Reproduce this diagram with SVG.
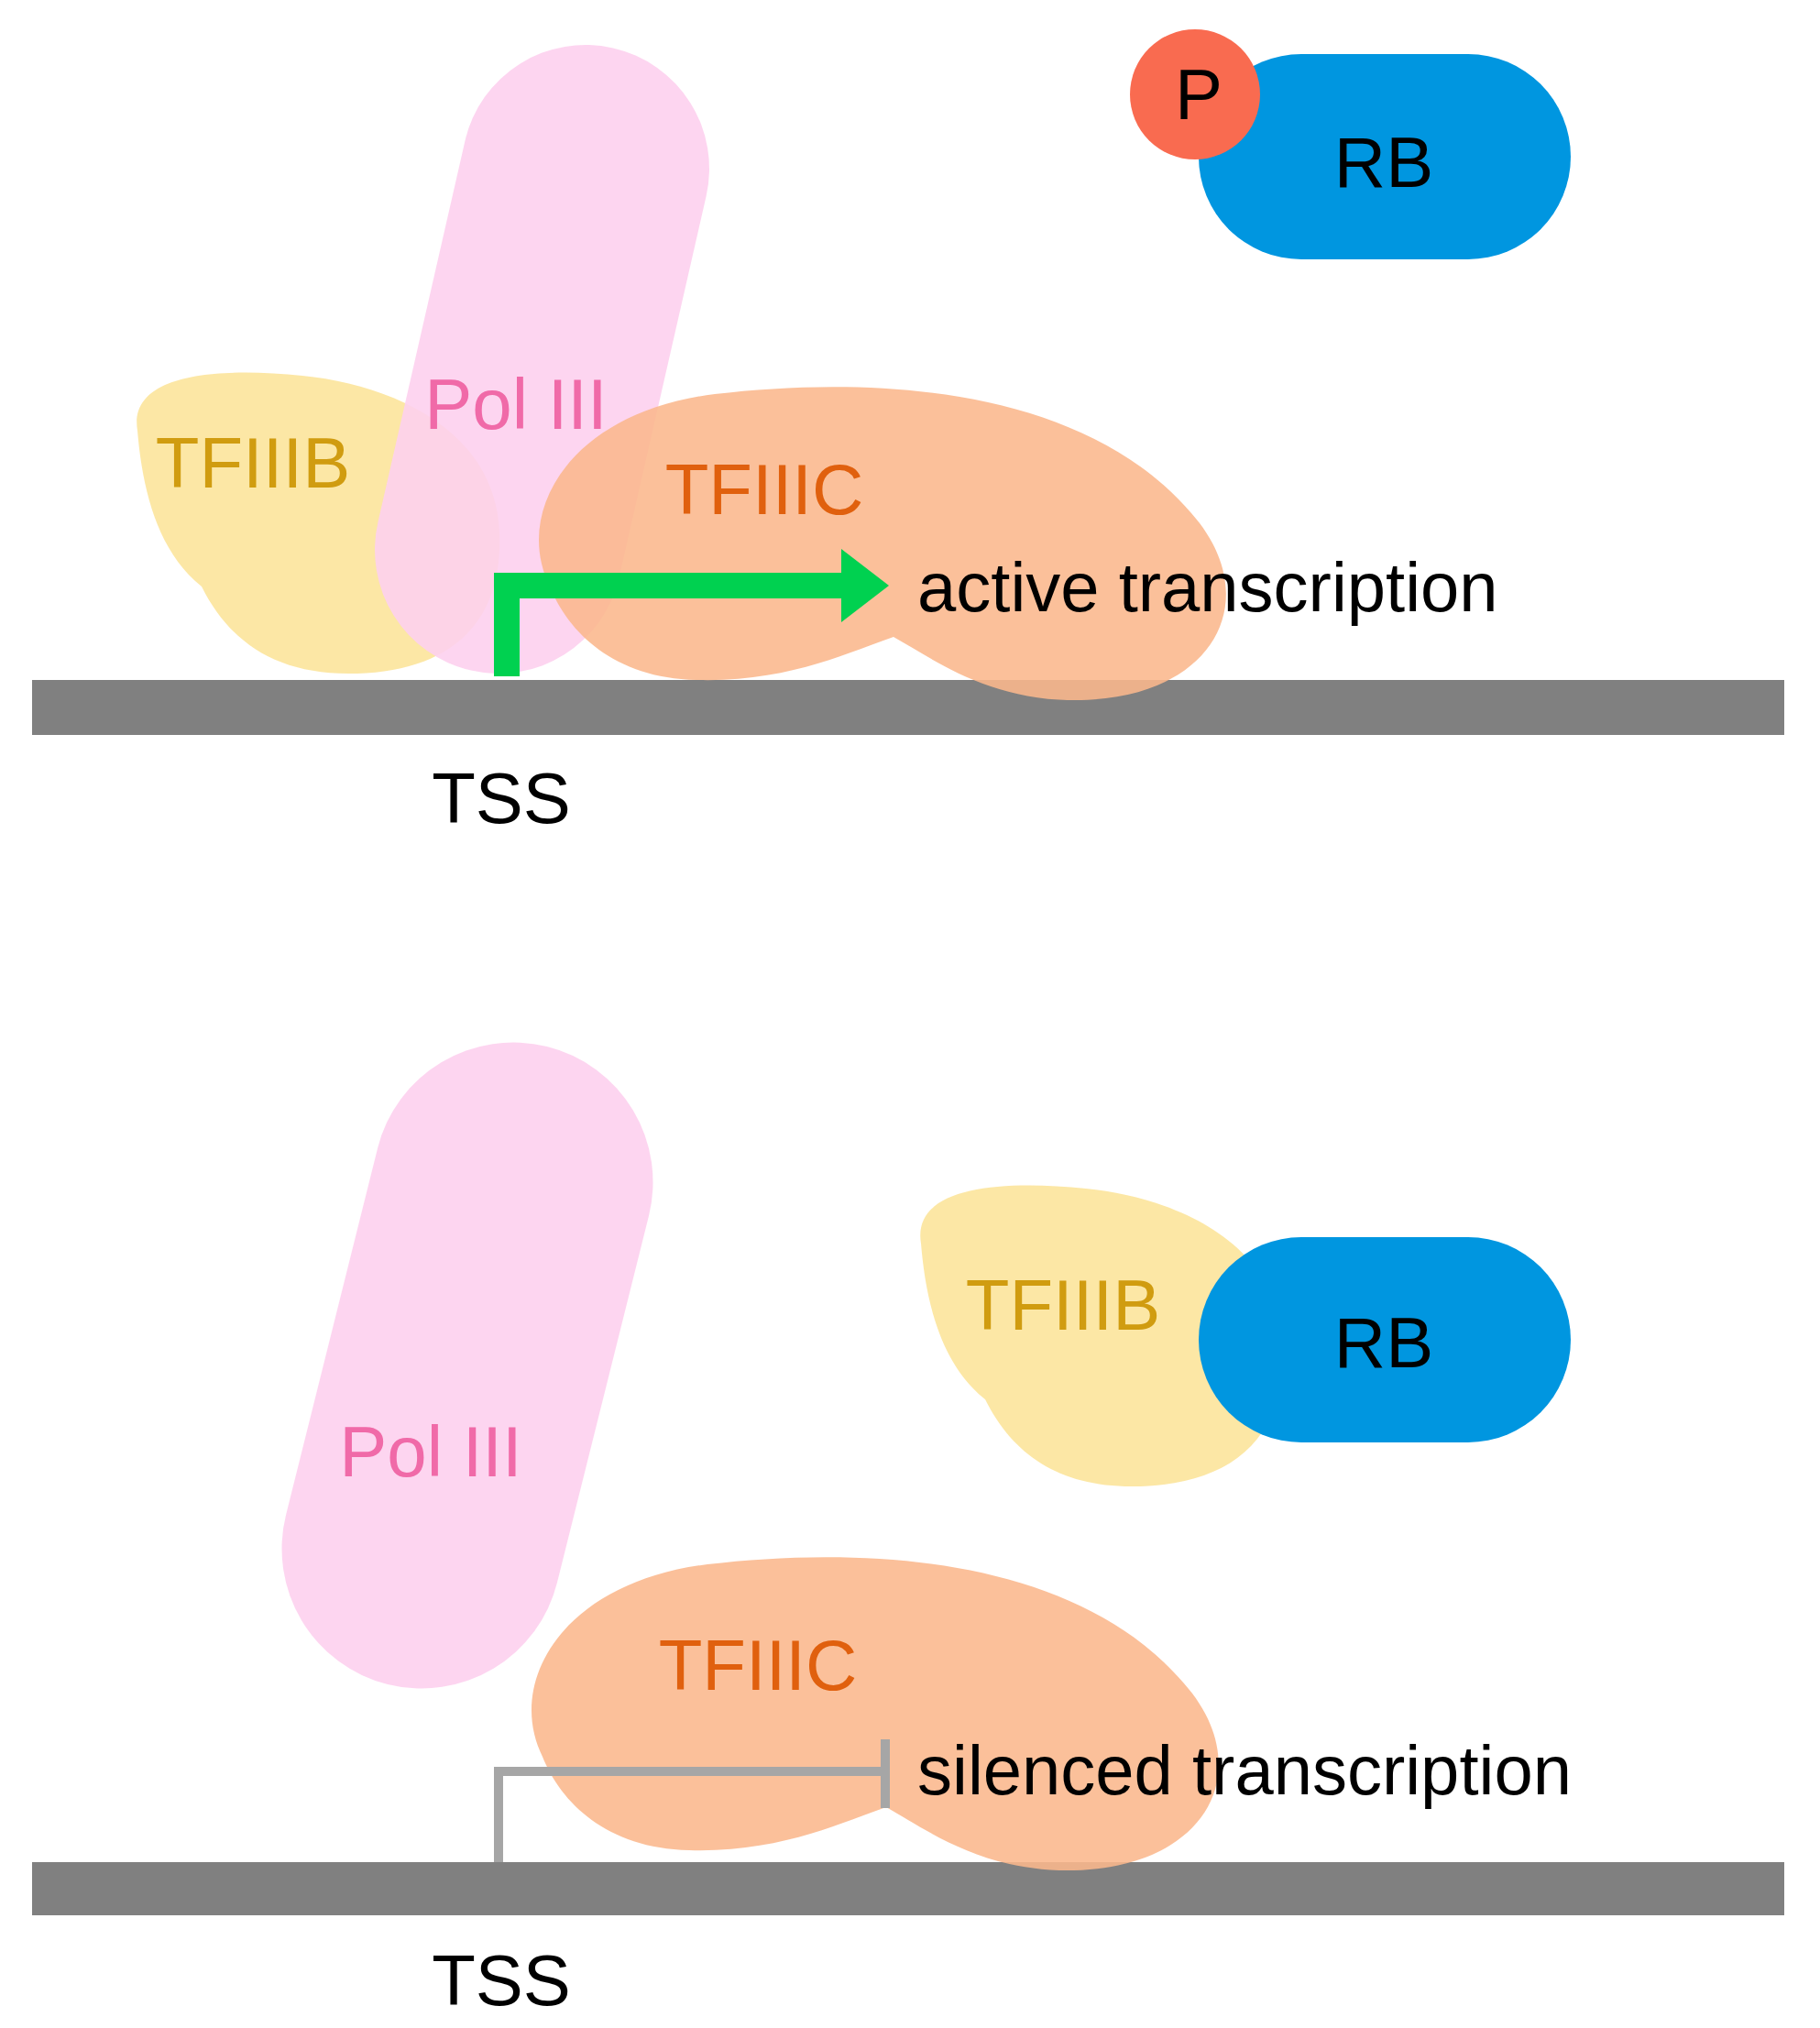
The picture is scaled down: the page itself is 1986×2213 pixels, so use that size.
<svg xmlns="http://www.w3.org/2000/svg" width="1986" height="2213" viewBox="0 0 1986 2213">
<style>
text{font-family:"Liberation Sans",Arial,sans-serif}
.lbl{font-size:78px;text-anchor:middle}
.b{fill:#fce6a0;opacity:0.95}
.p{stroke:#fdd0ee;stroke-linecap:round;fill:none;opacity:0.9}
.c{fill:#fbb78c;opacity:0.88}
.rb{fill:#0096e0}
.dna{fill:#808080}
</style>
<defs>
<path id="tfb" d="M150,470 C140,410 230,400 330,410 C430,420 540,470 545,580 C550,690 480,735 380,735 C300,735 250,700 220,640 C170,600 155,530 150,470 Z"/>
<path id="tfc" d="M600,640 C560,560 620,450 780,430 C950,410 1180,420 1300,560 C1380,650 1330,760 1180,764 C1080,766 1020,720 975,695 C930,710 860,745 760,742 C670,740 620,690 600,640 Z"/>
</defs>
<rect width="1986" height="2213" fill="#fff"/>
<g id="dna-top"><rect class="dna" x="35" y="742" width="1912" height="60"/><text x="547" y="898" class="lbl" fill="#000">TSS</text></g>
<g id="dna-bottom"><rect class="dna" x="35" y="2032" width="1912" height="58"/><text x="547" y="2188" class="lbl" fill="#000">TSS</text></g>
<g id="tfiiib-top"><use href="#tfb" class="b"/><text x="276" y="532" class="lbl" fill="#d09c10">TFIIIB</text></g>
<g id="pol3-top"><line class="p" x1="639" y1="184" x2="544" y2="600" stroke-width="270"/><text x="563" y="468" class="lbl" fill="#f06aa8">Pol III</text></g>
<g id="tfiiic-top"><use href="#tfc" class="c"/><text x="834" y="561" class="lbl" fill="#e0600e">TFIIIC</text></g>
<g id="rb-top"><rect class="rb" x="1308" y="59" width="406" height="224" rx="112"/><text x="1510" y="204" class="lbl" fill="#000">RB</text></g>
<g id="p-top"><circle cx="1304" cy="103" r="71" fill="#f96b50"/><text x="1308" y="130" class="lbl" fill="#000">P</text></g>
<g id="pol3-bottom"><line class="p" x1="560" y1="1290" x2="460" y2="1690" stroke-width="305"/><text x="470" y="1611" class="lbl" fill="#f06aa8">Pol III</text></g>
<g id="tfiiic-bottom"><use href="#tfc" class="c" transform="translate(-8,1277)"/><text x="827" y="1844" class="lbl" fill="#e0600e">TFIIIC</text></g>
<g id="tfiiib-bottom"><use href="#tfb" class="b" transform="translate(855,887)"/><text x="1160" y="1451" class="lbl" fill="#d09c10">TFIIIB</text></g>
<g id="rb-bottom"><rect class="rb" x="1308" y="1350" width="406" height="224" rx="112"/><text x="1510" y="1492" class="lbl" fill="#000">RB</text></g>
<g id="connectors">
<polyline points="553,738 553,639 925,639" fill="none" stroke="#00d150" stroke-width="28"/>
<polygon points="918,599 970,639 918,679" fill="#00d150"/>
<polyline points="544,2032 544,1933 966,1933" fill="none" stroke="#a6a6a6" stroke-width="10"/>
<line x1="966" y1="1898" x2="966" y2="1973" stroke="#a6a6a6" stroke-width="10"/>
</g>
<text x="1001" y="667" font-size="76" fill="#000">active transcription</text>
<text x="1001" y="1958" font-size="76" fill="#000">silenced transcription</text>
</svg>
